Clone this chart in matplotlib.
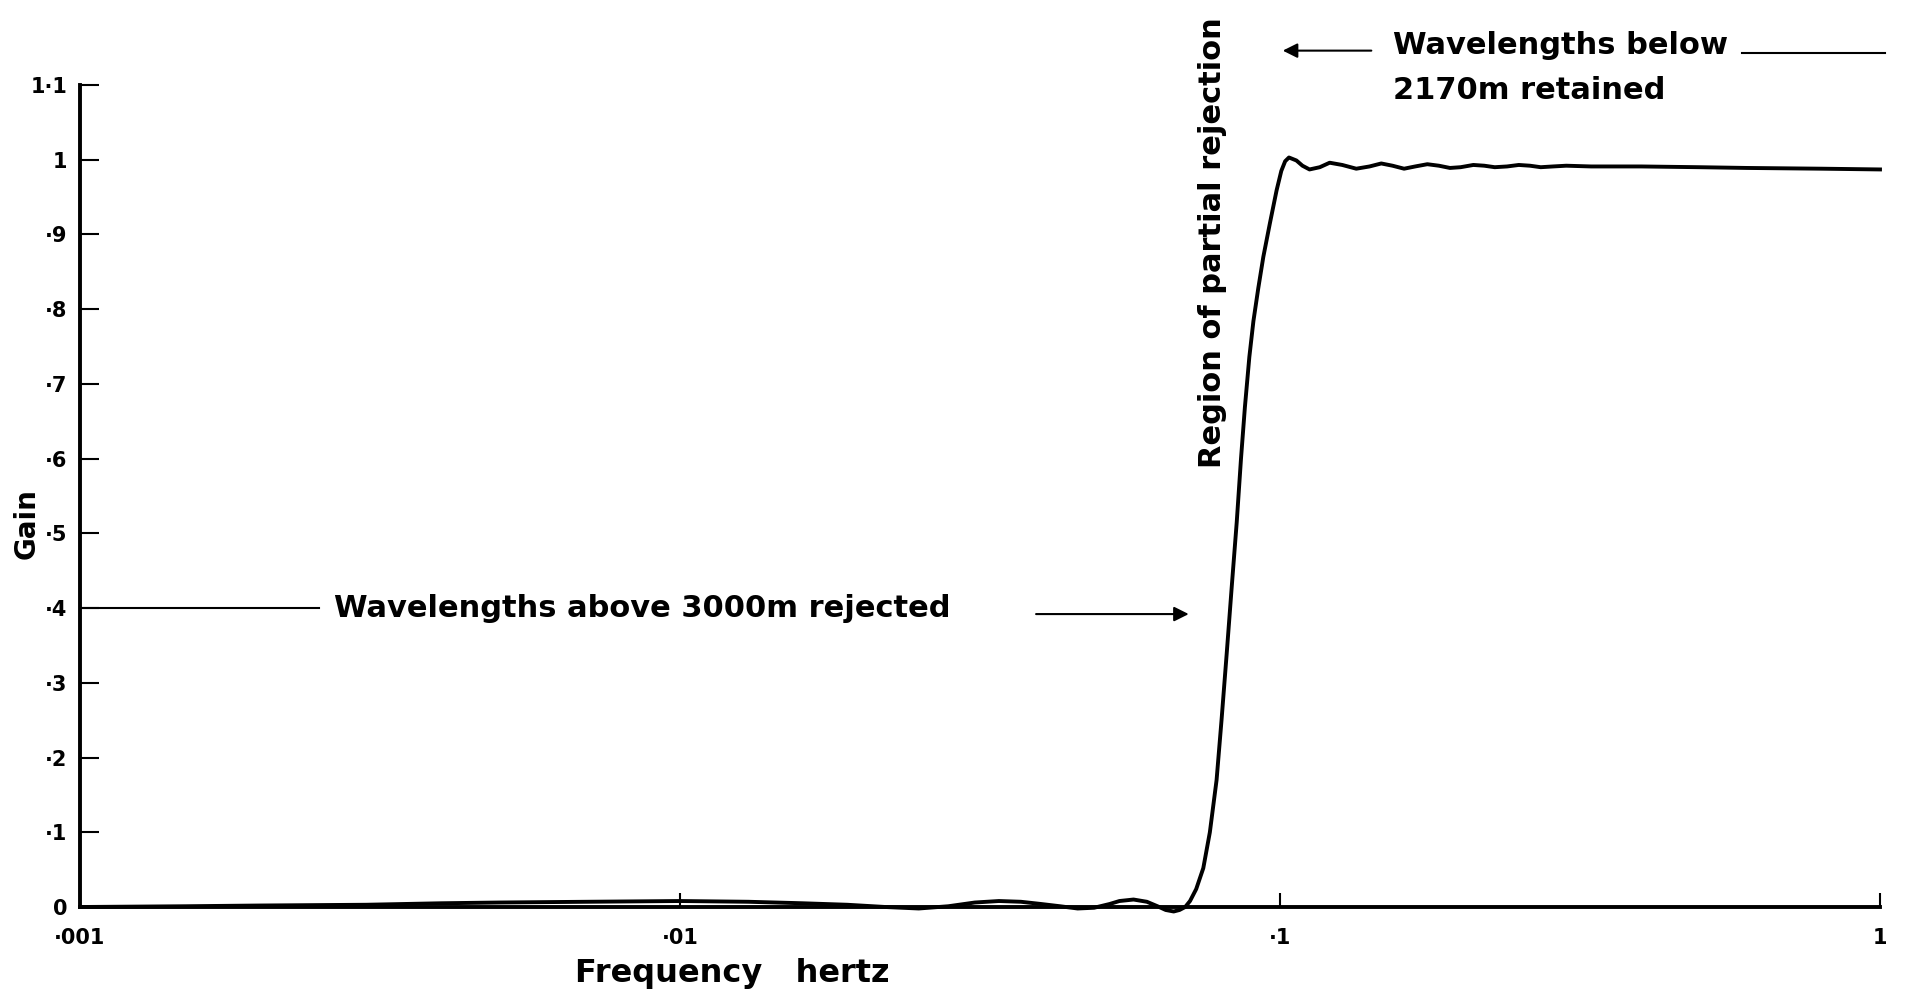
import matplotlib.pyplot as plt

# gain response of the filter
freq = [0.001, 0.0015, 0.002, 0.003, 0.004, 0.005, 0.007, 0.01, 0.013, 0.016,
        0.019, 0.022, 0.025, 0.028, 0.031, 0.034, 0.037, 0.040, 0.043, 0.046,
        0.049, 0.052, 0.054, 0.057, 0.060, 0.0625, 0.0645, 0.0665, 0.068, 0.0695,
        0.0708, 0.0725, 0.0745, 0.0764, 0.0784, 0.0799, 0.0815, 0.0831, 0.0847, 0.0861,
        0.0874, 0.0889, 0.0903, 0.092, 0.0938, 0.0962, 0.0987, 0.1005, 0.102, 0.1035,
        0.1065, 0.109, 0.112, 0.1165, 0.121, 0.127, 0.134, 0.141, 0.1475, 0.154,
        0.161, 0.168, 0.176, 0.184, 0.192, 0.20, 0.21, 0.219, 0.228, 0.239,
        0.25, 0.261, 0.272, 0.285, 0.30, 0.33, 0.4, 0.5, 0.6, 0.8, 1.0]
gain = [0.0, 0.001, 0.002, 0.003, 0.005, 0.006, 0.007, 0.008, 0.007, 0.005,
        0.003, 0.0, -0.002, 0.001, 0.006, 0.008, 0.007, 0.004, 0.001, -0.002,
        -0.001, 0.004, 0.008, 0.010, 0.007, 0.001, -0.004, -0.006, -0.004, 0.0,
        0.008, 0.024, 0.052, 0.1, 0.17, 0.25, 0.339, 0.429, 0.515, 0.6,
        0.669, 0.736, 0.784, 0.828, 0.870, 0.915, 0.959, 0.985, 0.998, 1.003,
        0.999, 0.992, 0.987, 0.990, 0.996, 0.993, 0.988, 0.991, 0.995, 0.992,
        0.988, 0.991, 0.994, 0.992, 0.989, 0.990, 0.993, 0.992, 0.990, 0.991,
        0.993, 0.992, 0.990, 0.991, 0.992, 0.991, 0.991, 0.990, 0.989, 0.988, 0.987]

x_ticks = [0.001, 0.01, 0.1, 1]
x_labels = ['·001', '·01', '·1', '1']
y_ticks = [0, 0.1, 0.2, 0.3, 0.4, 0.5, 0.6, 0.7, 0.8, 0.9, 1.0, 1.1]
y_labels = ['0', '·1', '·2', '·3', '·4', '·5', '·6', '·7', '·8', '·9', '1', '1·1']

TXT = 22
fig = plt.figure(figsize=(19.07, 9.99), dpi=100)
ax = fig.add_axes([0.04195, 0.09209, 0.94389, 0.82282])

ax.semilogx(freq, gain, color='black', lw=2.8, clip_on=False, zorder=3)

ax.set_xlim(0.001, 1)
ax.set_ylim(0, 1.1)
ax.spines['top'].set_visible(False)
ax.spines['right'].set_visible(False)
for s in ('left', 'bottom'):
    ax.spines[s].set_linewidth(2.8)

ax.set_xticks(x_ticks)
ax.set_xticklabels(x_labels)
ax.minorticks_off()
ax.set_yticks(y_ticks)
ax.set_yticklabels(y_labels)
ax.tick_params(direction='in', width=1.5, labelsize=15)
ax.tick_params(axis='y', length=14, pad=9)
ax.tick_params(axis='x', length=10, pad=15)
for lab in ax.get_xticklabels() + ax.get_yticklabels():
    lab.set_fontweight('bold')

fig.text(0.0142, 0.476, 'Gain', rotation=90, ha='center', va='center',
         fontsize=20, fontweight='bold')
fig.text(0.384, 0.026, 'Frequency   hertz', ha='center', va='center',
         fontsize=23, fontweight='bold')

# lower annotation: line from the axis, label, arrow into the curve
ax.plot([0.001, 0.0025], [0.4, 0.4], color='black', lw=1.5, clip_on=False)
ax.text(0.00265, 0.4, 'Wavelengths above 3000m rejected', ha='left', va='center',
        fontsize=TXT, fontweight='bold')
ax.annotate('', xy=(0.0712, 0.392), xytext=(0.0388, 0.392),
            arrowprops=dict(arrowstyle='-|>', lw=1.5, color='black', mutation_scale=22))

# upper annotation
ax.annotate('', xy=(0.1, 1.146), xytext=(0.1435, 1.146), annotation_clip=False,
            arrowprops=dict(arrowstyle='-|>', lw=1.5, color='black', mutation_scale=22))
ax.text(0.154, 1.153, 'Wavelengths below', ha='left', va='center',
        fontsize=TXT, fontweight='bold')
ax.text(0.154, 1.093, '2170m retained', ha='left', va='center',
        fontsize=TXT, fontweight='bold')
ax.plot([0.589, 1.02], [1.143, 1.143], color='black', lw=1.5, clip_on=False)

ax.text(0.0772, 0.889, 'Region of partial rejection', rotation=90,
        ha='center', va='center', fontsize=TXT, fontweight='bold')

fig.savefig('out.png', dpi=100, facecolor='white')
